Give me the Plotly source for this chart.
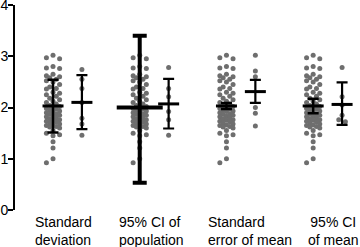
import math
import plotly.graph_objects as go

# ---------------- data ----------------
categories = ["Standard<br>deviation", "95% CI of<br>population",
              "Standard<br>error of mean", "95% CI<br>of mean"]

# the large sample (identical in every group)
large_values = [3.02, 2.97, 2.95, 2.80, 2.77, 2.76, 2.65, 2.62, 2.60, 2.58,
                2.55, 2.52, 2.50, 2.45, 2.40, 2.37, 2.36, 2.30, 2.28, 2.25,
                2.22, 2.18, 2.15, 2.12, 2.10, 2.07, 2.04, 2.02, 2.00, 1.98,
                1.97, 1.95, 1.93, 1.92, 1.90, 1.88, 1.87, 1.85, 1.83, 1.82,
                1.80, 1.78, 1.76, 1.75, 1.73, 1.72, 1.70, 1.68, 1.66, 1.65,
                1.63, 1.62, 1.60, 1.55, 1.50, 1.47, 1.45, 1.33, 1.21, 1.00,
                0.92]

# the small samples, one per group
small_sd = [2.74, 2.55, 2.37, 2.10, 1.79, 1.68, 1.46]
small_ci_pop = [2.78, 2.37, 2.21, 1.92, 1.76, 1.46]
small_sem = [3.02, 2.71, 2.60, 2.00, 1.89, 1.64]
small_ci_mean = [2.78, 2.21, 2.05, 1.85, 1.76, 1.72]
small_values = [small_sd, small_ci_pop, small_sem, small_ci_mean]

# summary bars (centre, lower end, upper end)
large_mean = [2.03, 2.00, 2.03, 2.03]
large_low = [1.51, 0.53, 1.97, 1.89]
large_high = [2.54, 3.40, 2.09, 2.17]
small_mean = [2.10, 2.07, 2.31, 2.06]
small_low = [1.58, 1.59, 2.09, 1.66]
small_high = [2.63, 2.56, 2.54, 2.49]

y_ticks = [0, 1, 2, 3, 4]

# ---------------- layout helpers ----------------
W, H = 360, 247
ML, MR, MT, MB = 15, 0, 5, 37
X_RANGE = [-1.315, 10.62]
Y_RANGE = [0, 4]
px_per_x = (W - ML - MR) / (X_RANGE[1] - X_RANGE[0])
px_per_y = (H - MT - MB) / (Y_RANGE[1] - Y_RANGE[0])

group_pos = [0, 3, 6, 9]      # large sample column; small sample at +1
DOT = "#6e6e6e"


def swarm(vals, step=3.3, dist=5.6):
    """simple beeswarm layout: horizontal offsets (in x data units)"""
    cands = [0, -step, step, -2 * step, 2 * step]
    order = sorted(range(len(vals)), key=lambda i: -vals[i])
    placed = []
    offs = [0.0] * len(vals)
    for i in order:
        y = vals[i] * px_per_y
        best, best_md, best_c = None, -1, 0
        for c in cands:
            md = min([math.hypot(c - px, y - py) for px, py in placed] or [1e9])
            if md >= dist:
                best = c
                break
            if md > best_md:
                best_md, best_c = md, c
        if best is None:
            best = best_c
        placed.append((best, y))
        offs[i] = best / px_per_x
    return offs


fig = go.Figure()

large_off = swarm(large_values)
for g, gx in enumerate(group_pos):
    fig.add_trace(go.Scatter(
        x=[gx + o for o in large_off], y=large_values, mode="markers",
        marker=dict(size=5, color=DOT), hoverinfo="skip", showlegend=False))
    soff = swarm(small_values[g])
    fig.add_trace(go.Scatter(
        x=[gx + 1 + o for o in soff], y=small_values[g], mode="markers",
        marker=dict(size=5, color=DOT), hoverinfo="skip", showlegend=False))


def add_bar(xc, m, lo, hi, thick, cap, mean_len, mean_w):
    fig.add_trace(go.Scatter(
        x=[xc], y=[m], mode="markers",
        marker=dict(symbol="line-ew", size=mean_len / 1.4, color="black",
                    line=dict(color="black", width=mean_w)),
        error_y=dict(type="data", symmetric=False, array=[hi - m],
                     arrayminus=[m - lo], color="black", thickness=thick,
                     width=cap),
        hoverinfo="skip", showlegend=False))


for g, gx in enumerate(group_pos):
    if g == 1:
        add_bar(gx, large_mean[g], large_low[g], large_high[g], 4, 7, 46, 4)
    else:
        add_bar(gx, large_mean[g], large_low[g], large_high[g], 2.5, 5.5, 21, 3)
    add_bar(gx + 1, small_mean[g], small_low[g], small_high[g], 2.2, 5.5, 21, 3)

# category labels
label_x = [-0.69, 2.21, 5.28, 9.72]
label_anchor = ["left", "left", "left", "center"]
for g, txt in enumerate(categories):
    fig.add_annotation(
        x=label_x[g], xref="x", y=-1.5 / (H - MT - MB),
        yref="paper", yanchor="top", xanchor=label_anchor[g],
        align=label_anchor[g], text=txt, showarrow=False,
        font=dict(family="Liberation Sans, Arial, sans-serif", size=14,
                  color="black"))

fig.update_layout(
    width=W, height=H, margin=dict(l=ML, r=MR, t=MT, b=MB, pad=0,
                                   autoexpand=False),
    paper_bgcolor="white", plot_bgcolor="white",
    font=dict(family="Liberation Sans, Arial, sans-serif", size=14,
              color="black"),
    xaxis=dict(range=X_RANGE, visible=False, showgrid=False, zeroline=False,
               automargin=False),
    yaxis=dict(range=Y_RANGE, tickvals=y_ticks, ticks="outside", ticklen=5,
               tickwidth=2, tickcolor="black", showline=True, linewidth=2,
               linecolor="black", showgrid=False, zeroline=False,
               automargin=False, ticklabeloverflow="allow",
               ticklabelstandoff=-3,
               tickfont=dict(size=14, color="black")),
)

fig.write_html("out.html", config={"displayModeBar": False},
               post_script="document.body.style.margin='0';"
                           "document.body.style.overflow='hidden';")
